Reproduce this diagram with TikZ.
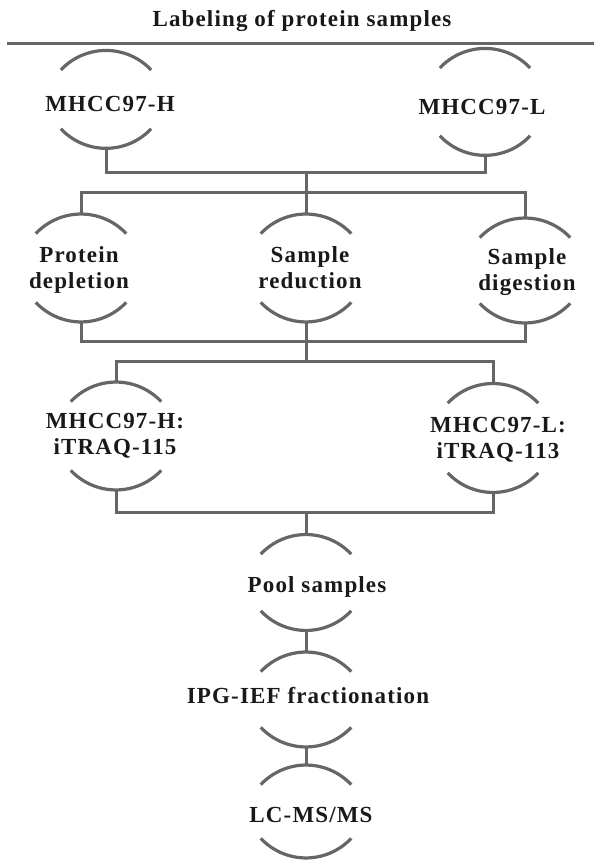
\documentclass[tikz,border=0pt]{standalone}
\usepackage{fontspec}
\setmainfont{Liberation Serif}[LetterSpace=5]
\usetikzlibrary{calc}

\definecolor{linegray}{RGB}{102,102,102}

% bracket arcs above and below a stage label: node, x offset, up, down
\newcommand\stagearcs[4]{%
  \coordinate (#1-t) at ([shift={(#2,#3)}]#1.center);
  \coordinate (#1-b) at ([shift={(#2,-#4)}]#1.center);
  \draw[arcline] ([shift={(-45.2,-19.6)}]#1-t) arc[start angle=136.8, end angle=43.2, radius=62];
  \draw[arcline] ([shift={(-45.2,19.6)}]#1-b) arc[start angle=223.2, end angle=316.8, radius=62];
}

\begin{document}
\begin{tikzpicture}[
    x=1pt, y=1pt,
    font=\fontsize{23}{26}\selectfont\bfseries,
    stage/.style={align=center, inner sep=0pt, text=black!90},
    arcline/.style={draw=linegray, line width=3.2pt},
    link/.style={draw=linegray, line width=3pt},
    heading/.style={anchor=base, text=black!90, font=\fontsize{23}{26}\selectfont\bfseries}
]
\useasboundingbox (0,0) rectangle (594,861);

% Title and rule
\node[heading] (title) at (302,834) {Labeling of protein samples};
\coordinate (ruleL) at (7,817.5);
\coordinate (ruleR) at (594,817.5);
\draw[link] (ruleL) -- (ruleR);

% Stages
\node[stage] (mhH) at (110,756.6) {MHCC97-H};
\node[stage] (mhL) at (482,753.6) {MHCC97-L};
\node[stage] (depl) at (79,591) {Protein\\depletion};
\node[stage] (redu) at (310,593) {Sample\\reduction};
\node[stage] (dige) at (527,589) {Sample\\digestion};
\node[stage] (itH) at (115,425) {MHCC97-H:\\iTRAQ-115};
\node[stage] (itL) at (498,421.5) {MHCC97-L:\\iTRAQ-113};
\node[stage] (pool) at (317,274.5) {Pool samples};
\node[stage] (ipg) at (308,165) {IPG-IEF fractionation};
\node[stage] (lcms) at (311,46) {LC-MS/MS};

\foreach \n/\dx/\up/\dn in {mhH/-4/54/44, mhL/3/59/48, depl/2/56/52, redu/-4/54/54,
    dige/-2/54/51, itH/1/54/54, itL/-5/56/53, pool/-11/52/44, ipg/-2/44/51, lcms/-5/50/43}
  \stagearcs{\n}{\dx}{\up}{\dn};

% Junctions
\coordinate (bus1) at (306,688);
\coordinate (bus2) at (306,668);
\coordinate (bus3) at (306,519);
\coordinate (bus4) at (306,499);
\coordinate (bus5) at (306,348);

% Connectors
\draw[link] (mhH-b) |- (bus1) -| (mhL-b);
\draw[link] (bus1) -- (bus2);
\draw[link] (depl-t) |- (bus2) -| (dige-t);
\draw[link] (bus2) -- (redu-t);
\draw[link] (depl-b) |- (bus3) -| (dige-b);
\draw[link] (redu-b) -- (bus3) -- (bus4);
\draw[link] (itH-t) |- (bus4) -| (itL-t);
\draw[link] (itH-b) |- (bus5) -| (itL-b);
\draw[link] (bus5) -- (pool-t);
\draw[link] (pool-b) -- (ipg-t);
\draw[link] (ipg-b) -- (lcms-t);

\end{tikzpicture}
\end{document}
